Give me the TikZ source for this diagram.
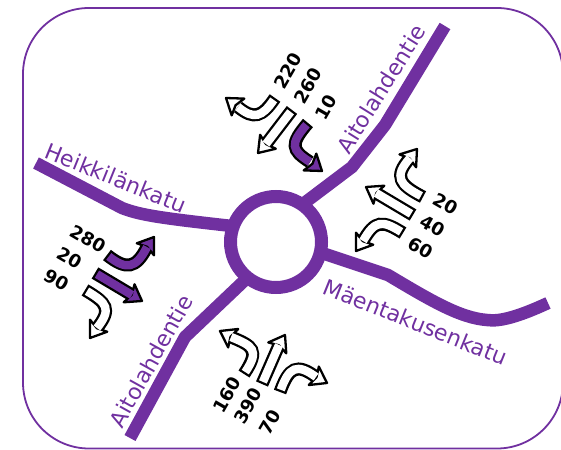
\documentclass[tikz,border=0pt]{standalone}
\usepackage{fontspec}
\setmainfont{DejaVu Sans}
\usetikzlibrary{calc}
\definecolor{violetroad}{HTML}{7030A0}
\tikzset{
  road/.style={draw=violetroad,line width=12.5pt,line join=round},
  roadname/.style={text=violetroad,font=\fontsize{22}{24}\selectfont,inner sep=0pt},
  flownum/.style={font=\fontsize{18}{20}\selectfont\bfseries,inner sep=0pt},
}
% #1 fill colour, #2 path up to the head base, #3 head base, #4 tip
\newcommand{\flowarrow}[4]{%
  \draw[line width=13pt,black] #2;
  \coordinate (hb) at #3; \coordinate (ht) at #4;
  \coordinate (hq) at ($(ht)!15pt!(hb)$);
  \coordinate (hn) at ($(ht)!12pt!(hb)$);
  \draw[fill=#1,line width=2.3pt,line join=round] (ht) -- ($(hq)!10.5pt!90:(ht)$) -- (hn) -- ($(hq)!10.5pt!-90:(ht)$) -- cycle;
  \draw[line width=8.4pt,#1,shorten <=2.3pt] #2;
}
\begin{document}
\begin{tikzpicture}[x=1pt,y=-1pt]
\useasboundingbox (0,0) rectangle (561,449);
\begin{scope}
\clip (0,0) rectangle (561,449);
\draw[violetroad,line width=1.8pt,rounded corners=66pt] (23,8) rectangle (563,448.5);
\end{scope}
% roads
\coordinate (hub) at (276,242);
\coordinate (nE) at (445,26);
\coordinate (wE) at (36,163);
\coordinate (eE) at (548,303);
\coordinate (sE) at (130,438);
\draw[road] (nE) -- (385,125) -- (352,167) -- (303,204);
\draw[road] (wE) -- (122,208) .. controls (140,215) and (160,218) .. (232,226);
\draw[road] (eE) .. controls (520,316) and (500,322) .. (487,320) .. controls (460,318) and (430,300) .. (388,275) -- (322,253);
\draw[road] (sE) -- (185,337) -- (245,280);
\node[circle,draw=violetroad,line width=13pt,fill=white,minimum size=91pt,inner sep=0pt] (ring) at (hub) {};
% road names
\node[roadname,rotate=-22] (nH) at (116,178) {Heikkilänkatu};
\node[roadname,rotate=58] (nAt) at (381,89) {Aitolahdentie};
\node[roadname,rotate=-22] (nM) at (415.5,322) {Mäentakusenkatu};
\node[roadname,rotate=61] (nAb) at (151,361) {Aitolahdentie};
% north flows
\flowarrow{white}{(275,98) .. controls (262,117) and (254,120) .. (238,107)}{(238,107)}{(226,98)}
\flowarrow{white}{(292,110) -- (266,144)}{(266,144)}{(258,153)}
\flowarrow{violetroad}{(308,123) .. controls (290,144) and (291,150) .. (310,162)}{(310,162)}{(322,171)}
\node[flownum,rotate=60] (n220) at (288,71) {220};
\node[flownum,rotate=60] (n260) at (308,86) {260};
\node[flownum,rotate=60] (n10) at (326,107) {10};
% east flows
\flowarrow{white}{(423,197) .. controls (400,185) and (393,177) .. (410,158)}{(410,158)}{(417,149)}
\flowarrow{white}{(413,215) -- (376,193)}{(376,193)}{(366,187)}
\flowarrow{white}{(403,233) .. controls (382,220) and (375,220) .. (363,241)}{(363,241)}{(356,251)}
\node[flownum,rotate=-30] (n20e) at (446,204) {20};
\node[flownum,rotate=-30] (n40e) at (433,226) {40};
\node[flownum,rotate=-30] (n60e) at (421,248) {60};
% west flows
\flowarrow{violetroad}{(107,255) .. controls (126,270) and (136,269) .. (147,247)}{(147,247)}{(154,237)}
\flowarrow{violetroad}{(95,273) -- (132,295)}{(132,295)}{(142,301)}
\flowarrow{white}{(85,290) .. controls (107,303) and (112,309) .. (97,328)}{(97,328)}{(90,338)}
\node[flownum,rotate=-30] (n280) at (88,239) {280};
\node[flownum,rotate=-30] (n20w) at (70,258) {20};
\node[flownum,rotate=-30] (n90) at (57,280) {90};
% south flows
\flowarrow{white}{(244,374) .. controls (260,350) and (253,346) .. (231,337)}{(231,337)}{(220,331)}
\flowarrow{white}{(262,384) -- (279,345)}{(279,345)}{(285,335)}
\flowarrow{white}{(280,392) .. controls (289,367) and (297,363) .. (316,377)}{(316,377)}{(327,383)}
\node[flownum,rotate=60] (n160) at (227,395) {160};
\node[flownum,rotate=60] (n390) at (248,406) {390};
\node[flownum,rotate=60] (n70) at (270,422) {70};
\end{tikzpicture}
\end{document}
